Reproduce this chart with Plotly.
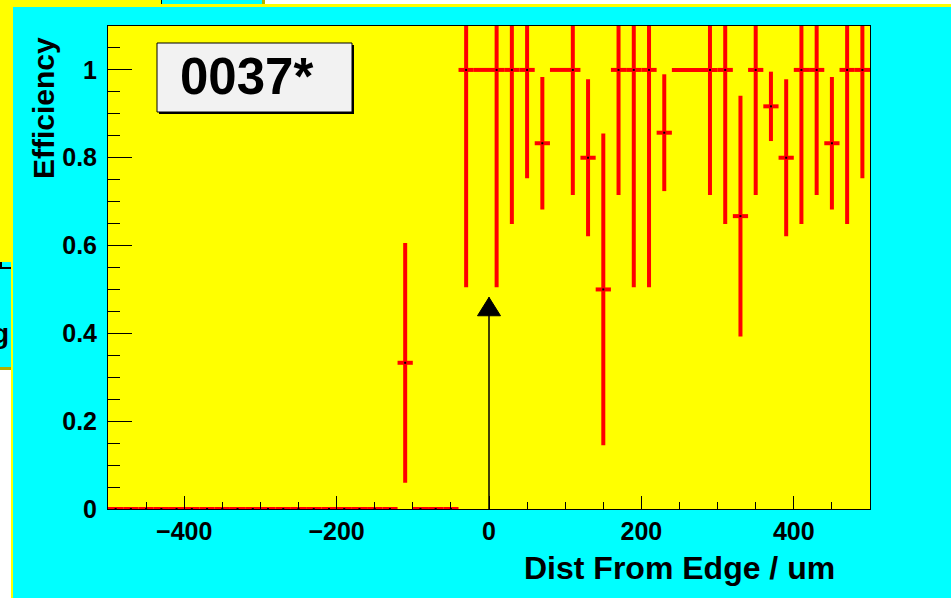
import plotly.graph_objects as go

# ---------------- data ----------------
dist = [-490, -470, -450, -430, -410, -390, -370, -350, -330, -310,
        -290, -270, -250, -230, -210, -190, -170, -150, -130, -110,
        -90, -70, -50, -30, 10, 30, 50, 70, 110, 130,
        150, 170, 190, 210, 230, 290, 310, 330, 350, 370,
        390, 410, 430, 450, 470, 490]
eff = [0, 0, 0, 0, 0, 0, 0, 0, 0, 0,
       0, 0, 0, 0, 0, 0, 0, 0, 0, 0.333,
       0, 0, 0, 1, 1, 1, 1, 0.833, 1, 0.8,
       0.5, 1, 1, 1, 0.857, 1, 1, 0.667, 1, 0.917,
       0.8, 1, 1, 0.833, 1, 1]
eff_err = [0, 0, 0, 0, 0, 0, 0, 0, 0, 0,
           0, 0, 0, 0, 0, 0, 0, 0, 0, 0.273,
           0, 0, 0, 0.495, 0.495, 0.351, 0.247, 0.151, 0.285, 0.179,
           0.355, 0.285, 0.495, 0.495, 0.133, 0.285, 0.351, 0.274, 0.285, 0.079,
           0.179, 0.351, 0.285, 0.151, 0.351, 0.247]
dist_err_lo = [10, 10, 10, 10, 10, 10, 10, 10, 10, 10,
               10, 10, 10, 10, 10, 10, 10, 10, 10, 10,
               10, 10, 10, 10, 30, 10, 10, 10, 30, 10,
               10, 10, 10, 10, 10, 50, 10, 10, 10, 10,
               10, 10, 10, 10, 10, 10]
dist_err_hi = [10, 10, 10, 10, 10, 10, 10, 10, 10, 10,
               10, 10, 10, 10, 10, 10, 10, 10, 10, 10,
               10, 10, 10, 10, 10, 10, 10, 10, 10, 10,
               10, 10, 10, 10, 10, 10, 10, 10, 10, 10,
               10, 10, 10, 10, 10, 10]
arrow_x = [0, 0]
arrow_y = [0, 0.482]
label_text = "0037*"
x_title = "Dist From Edge / um"
y_title = "Efficiency"

# ---------------- geometry ----------------
W, H = 951, 598
L, R, T, B = 108, 81, 26, 89
PW = W - L - R
PH = H - T - B


def px(x):
    return (x - L) / PW


def py(y):
    return (H - B - y) / PH


CYAN = "#00ffff"
YELLOW = "#ffff00"
OLIVE = "#b0b000"
FONT = "Liberation Sans"

fig = go.Figure()

fig.add_trace(go.Scatter(
    x=dist, y=eff, mode="markers",
    marker=dict(symbol="square", size=2, color="black"),
    error_y=dict(type="data", symmetric=True, array=eff_err,
                 color="#ff0000", thickness=4, width=0),
    error_x=dict(type="data", symmetric=False, array=dist_err_hi,
                 arrayminus=dist_err_lo, color="#ff0000", thickness=4, width=0),
    showlegend=False, hoverinfo="skip"))

fig.add_trace(go.Scatter(
    x=arrow_x, y=arrow_y, mode="lines",
    line=dict(color="black", width=1.5),
    showlegend=False, hoverinfo="skip"))

shapes = []


def rect(x0, y0, x1, y1, color, layer="below", line=None):
    shapes.append(dict(type="rect", xref="paper", yref="paper",
                       x0=px(x0), x1=px(x1), y0=py(y0), y1=py(y1),
                       fillcolor=color, line=line or dict(width=0), layer=layer))


# background canvas pieces outside main pad
rect(265, 0, 951, 4, "white")
rect(0, 370, 11, 598, "white")
rect(0, 0, 161, 4, YELLOW)
rect(161, 0, 162, 4, "black")
rect(262, 0, 265, 4, OLIVE)
rect(0, 0, 11, 262, YELLOW)
rect(0, 262, 2, 269, "black")
rect(0, 267, 11, 269, "black")
rect(0, 367, 11, 370, OLIVE)
# main pad yellow border (top / left)
rect(11, 4, 951, 7, YELLOW)
rect(11, 4, 13, 598, YELLOW)

# label box with shadow
rect(159, 45, 354, 114, "black", layer="above")
rect(157, 43, 352, 112, "#f2f2f2", layer="above", line=dict(color="black", width=1))

# arrow head (pixel sized triangle anchored at tip)
shapes.append(dict(type="path", xref="x", yref="y",
                   xsizemode="pixel", ysizemode="pixel",
                   xanchor=arrow_x[1], yanchor=arrow_y[1],
                   path="M-11.5,-18.4 L11.5,-18.4 L0,0 Z",
                   fillcolor="black", line=dict(color="black", width=1)))

annotations = [
    dict(text=label_text, xref="paper", yref="paper", x=px(178), y=py(77),
         xanchor="left", yanchor="middle", showarrow=False,
         font=dict(family=FONT, size=51, color="black", weight="bold")),
    dict(text=y_title, xref="paper", yref="paper", x=px(43), y=py(108),
         xanchor="center", yanchor="middle", textangle=-90, showarrow=False,
         font=dict(family=FONT, size=30, color="black", weight="bold")),
    dict(text=x_title, xref="paper", yref="paper", x=px(837), y=py(568),
         xanchor="right", yanchor="middle", showarrow=False,
         font=dict(family=FONT, size=32, color="black", weight="bold")),
    dict(text="g", xref="paper", yref="paper", x=px(11), y=py(333),
         xanchor="right", yanchor="middle", showarrow=False,
         font=dict(family=FONT, size=28, color="black", weight="bold")),
]

fig.update_layout(
    width=W, height=H,
    margin=dict(l=L, r=R, t=T, b=B, pad=0),
    paper_bgcolor=CYAN, plot_bgcolor=YELLOW,
    shapes=shapes, annotations=annotations,
    showlegend=False,
)

fig.update_xaxes(
    range=[-500, 500], tickmode="linear", tick0=0, dtick=200,
    ticks="inside", ticklen=13, tickwidth=1, tickcolor="black",
    minor=dict(ticks="inside", dtick=50, tick0=0, ticklen=7, tickwidth=1, tickcolor="black"),
    showgrid=False, zeroline=False, showline=True, linecolor="black", linewidth=1,
    mirror=True, ticklabelstandoff=0,
    tickfont=dict(family=FONT, size=25, color="black", weight="bold"),
)
fig.update_yaxes(
    range=[0, 1.1], tickmode="linear", tick0=0, dtick=0.2,
    ticks="inside", ticklen=24, tickwidth=1, tickcolor="black",
    minor=dict(ticks="inside", dtick=0.05, tick0=0, ticklen=12, tickwidth=1, tickcolor="black"),
    showgrid=False, zeroline=False, showline=True, linecolor="black", linewidth=1,
    mirror=True, ticklabelstandoff=5,
    tickfont=dict(family=FONT, size=25, color="black", weight="bold"),
)

fig.write_html("out.html")
